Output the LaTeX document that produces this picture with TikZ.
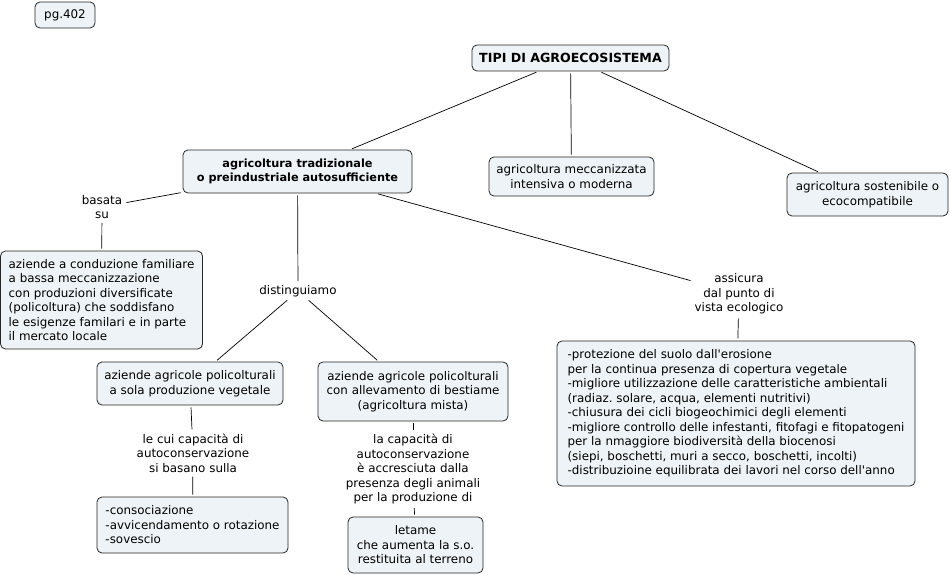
\documentclass[tikz,border=0pt]{standalone}
\usepackage{fontspec}
\setmainfont{DejaVu Sans}
\frenchspacing
\definecolor{boxfill}{RGB}{237,243,246}
\tikzset{
  concept/.style={draw=black!85, fill=boxfill, rounded corners=5pt, line width=0.8pt,
    align=center, inner sep=0pt, font=\fontsize{11.9}{14.5}\selectfont},
  linkword/.style={align=center, inner sep=2pt, font=\fontsize{11.9}{14.5}\selectfont},
  bold/.style={font=\fontsize{11.3}{14.5}\selectfont\bfseries}
}
\begin{document}
\begin{tikzpicture}[x=1pt, y=-1pt]
      \useasboundingbox (0,0) rectangle (950,575);
      \node[concept, minimum width=60, minimum height=26] (pg) at (65,15) {pg.402};
      \node[concept, minimum width=197, minimum height=26, font=\fontsize{12.6}{14.5}\selectfont\bfseries] (tipi) at (570.5,58) {TIPI DI AGROECOSISTEMA};
      \node[concept, minimum width=229, minimum height=43, bold] (trad) at (297.5,171.5) {agricoltura tradizionale\\o preindustriale autosufficiente};
      \node[concept, minimum width=165, minimum height=39] (mecc) at (571.5,176.5) {agricoltura meccanizzata\\intensiva o moderna};
      \node[concept, minimum width=161, minimum height=43] (sost) at (867.5,194.5) {agricoltura sostenibile o\\ecocompatibile};
      \node[linkword] (basata) at (102,207) {basata\\su};
      \node[concept, minimum width=202, minimum height=98, align=left] (famil) at (101.5,300) {aziende a conduzione familiare\\a bassa meccanizzazione\\con produzioni diversificate\\(policoltura) che soddisfano\\le esigenze familari e in parte\\il mercato locale};
      \node[linkword] (disting) at (298,291) {distinguiamo};
      \node[linkword] (assic) at (739,294) {assicura\\dal punto di\\vista ecologico};
      \node[concept, minimum width=358, minimum height=145, align=left] (prot) at (736,413.5) {-protezione del suolo dall\textquotesingle erosione\\per la continua presenza di copertura vegetale\\-migliore utilizzazione delle caratteristiche ambientali\\(radiaz. solare, acqua, elementi nutritivi)\\-chiusura dei cicli biogeochimici degli elementi\\-migliore controllo delle infestanti, fitofagi e fitopatogeni\\per la nmaggiore biodiversità della biocenosi\\(siepi, boschetti, muri a secco, boschetti, incolti)\\-distribuzioine equilibrata dei lavori nel corso dell\textquotesingle anno};
      \node[concept, minimum width=186, minimum height=43] (sola) at (190,383.5) {aziende agricole policolturali\\a sola produzione vegetale};
      \node[concept, minimum width=190, minimum height=59] (allev) at (413,391.5) {aziende agricole policolturali\\con allevamento di bestiame\\(agricoltura mista)};
      \node[linkword] (lecui) at (193,453) {le cui capacità di\\autoconservazione\\si basano sulla};
      \node[linkword] (lacap) at (413,469) {la capacità di\\autoconservazione\\è accresciuta dalla\\presenza degli animali\\per la produzione di};
      \node[concept, minimum width=191, minimum height=56, align=left] (conso) at (192.5,525) {-consociazione\\-avvicendamento o rotazione\\-sovescio};
      \node[concept, minimum width=135, minimum height=56] (letame) at (415.5,545) {letame\\che aumenta la s.o.\\restituita al terreno};
      \begin{scope}[-, line width=0.7pt, shorten <=2pt, shorten >=2pt]
        \draw (tipi) to (trad);
        \draw (tipi) to (mecc);
        \draw (tipi) to (sost);
        \draw (trad) to (basata);
        \draw (basata) to (famil);
        \draw (trad) to (disting);
        \draw (disting) to (sola);
        \draw (disting) to (allev);
        \draw (trad) to (assic);
        \draw (assic) to (prot);
        \draw (sola) to (lecui);
        \draw (lecui) to (conso);
        \draw (allev) to (lacap);
        \draw (lacap) to (letame);
      \end{scope}
    \end{tikzpicture}
\end{document}
